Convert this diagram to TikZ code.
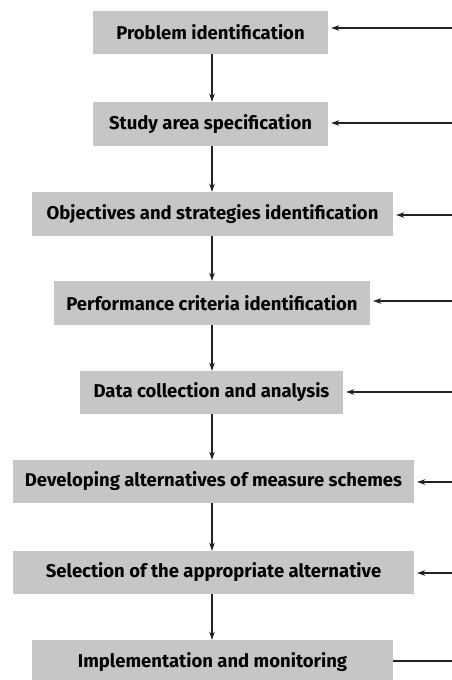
\documentclass[tikz,border=0pt]{standalone}
\usepackage{fontspec}
\setmainfont{Fira Sans}
\usetikzlibrary{arrows.meta}
\definecolor{boxgray}{HTML}{C6C6C6}
\definecolor{linegray}{HTML}{222222}
\begin{document}
\begin{tikzpicture}[x=1pt,y=-1pt,
  stepbox/.style={fill=boxgray, draw=none, inner sep=0pt, align=center,
    font=\bfseries\fontsize{18.5}{20}\selectfont, text=black},
  flow/.style={draw=linegray, line width=1.2pt, -{Stealth[length=8pt,width=5.5pt]}},
  feed/.style={draw=linegray, line width=1.2pt}]
\useasboundingbox (0,0) rectangle (452,680);
\coordinate (spine) at (212,0);
\node[stepbox, minimum width=235pt, minimum height=43pt] (b1) at (210.5,32.5) {Problem identification};
\node[stepbox, minimum width=235pt, minimum height=44pt] (b2) at (210.5,124) {Study area specification};
\node[stepbox, minimum width=361pt, minimum height=44pt] (b3) at (212.5,214) {Objectives and strategies identification};
\node[stepbox, minimum width=316pt, minimum height=44pt] (b4) at (212,303) {Performance criteria identification};
\node[stepbox, minimum width=263pt, minimum height=43pt] (b5) at (211.5,392.5) {Data collection and analysis};
\node[stepbox, minimum width=401pt, minimum height=43pt] (b6) at (213.5,481.5) {Developing alternatives of measure schemes};
\node[stepbox, minimum width=401pt, minimum height=43pt] (b7) at (213.5,572.5) {Selection of the appropriate alternative};
\node[stepbox, minimum width=361pt, minimum height=44pt] (b8) at (212.5,662) {Implementation and monitoring};
\foreach \a/\b in {b1/b2,b2/b3,b3/b4,b4/b5,b5/b6,b6/b7,b7/b8}
  \draw[flow] (\a.south -| spine) -- (\b.north -| spine);
\coordinate (r1) at (452,28);
\coordinate (r2) at (452,123);
\coordinate (r3) at (452,215);
\coordinate (r4) at (452,301);
\coordinate (r5) at (452,392);
\coordinate (r6) at (452,482);
\coordinate (r7) at (452,573);
\coordinate (r8) at (452,661);
\foreach \i in {1,...,7}
  \draw[flow, shorten >=3pt] (r\i) -- (b\i.east |- r\i);
\draw[feed] (b8.east |- r8) -- (r8);
\end{tikzpicture}
\end{document}
